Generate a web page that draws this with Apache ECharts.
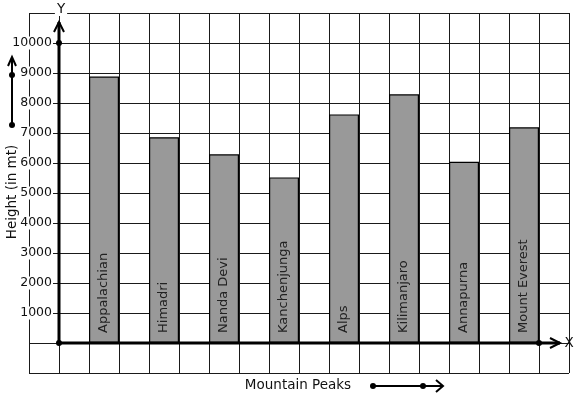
<!DOCTYPE html>
<html>
<head>
<meta charset="utf-8">
<script src="https://cdn.jsdelivr.net/npm/echarts@6/dist/echarts.min.js"></script>
<style>html,body{margin:0;padding:0;background:#fff;}#c{width:577px;height:399px;}</style>
</head>
<body>
<div id="c"></div>
<script>
const categories = ['Appalachian', 'Himadri', 'Nanda Devi', 'Kanchenjunga', 'Alps', 'Kilimanjaro', 'Annapurna', 'Mount Everest'];
const heights = [8880, 6860, 6290, 5520, 7620, 8290, 6040, 7190];
const yTickMin = 0, yTickMax = 10000, yTickStep = 1000;
const xTitle = 'Mountain Peaks';
const yTitle = 'Height (in mt)';

const FONT = 'DejaVu Sans';
const chart = echarts.init(document.getElementById('c'));
const gridLine = {show: true, lineStyle: {color: '#1a1a1a', width: 1}};
chart.setOption({
  animation: false,
  backgroundColor: '#fff',
  grid: [
    {left: 29, right: 8, top: 13, bottom: 26},
    {left: 74, right: 23, top: 13, bottom: 26},
    {left: 59, right: 8, top: 43, bottom: 56}
  ],
  xAxis: [
    {gridIndex: 0, type: 'value', min: -1, max: 17, interval: 1, axisLine: {show: false}, axisTick: {show: false}, axisLabel: {show: false}, splitLine: gridLine},
    {gridIndex: 1, type: 'category', data: categories, show: false},
    {gridIndex: 2, type: 'value', min: 0, max: 1, show: false}
  ],
  yAxis: [
    {gridIndex: 0, type: 'value', min: yTickMin - yTickStep, max: yTickMax + yTickStep, interval: yTickStep, axisLine: {show: false}, axisTick: {show: false}, axisLabel: {show: false}, splitLine: gridLine},
    {gridIndex: 1, type: 'value', min: yTickMin - yTickStep, max: yTickMax + yTickStep, show: false},
    {gridIndex: 2, type: 'value', min: yTickMin, max: yTickMax, interval: yTickStep, z: 10,
      axisLine: {show: false}, axisTick: {show: false}, splitLine: {show: false},
      axisLabel: {margin: 6, showMinLabel: false, formatter: v => String(v), color: '#111', fontSize: 12.5, fontFamily: FONT, backgroundColor: '#fff', padding: [0, 1]}}
  ],
  series: [{
    type: 'bar', xAxisIndex: 1, yAxisIndex: 1, data: heights, barWidth: 30, z: 5,
    itemStyle: {color: '#999999', borderColor: '#000', borderWidth: 1.2},
    label: {show: true, position: 'insideBottom', rotate: 90, align: 'left', verticalAlign: 'middle', distance: 10,
      formatter: p => p.name, color: '#222', fontSize: 13, fontFamily: FONT}
  }]
});

const P = (x, y) => chart.convertToPixel({gridIndex: 0}, [x, y]);
const o = P(0, 0), yTop = P(0, 10700), y10k = P(0, 10000), xEnd = P(16.7, 0), xDot = P(16, 0);
const stroke = (w) => ({stroke: '#000', lineWidth: w, fill: null});
const dot = (x, y) => ({type: 'circle', z: 21, shape: {cx: x, cy: y, r: 3}, style: {fill: '#000'}});
const F = '13.5px "DejaVu Sans"';
chart.setOption({
  graphic: {elements: [
    {type: 'line', z: 20, shape: {x1: o[0], y1: o[1], x2: yTop[0], y2: yTop[1]}, style: stroke(3)},
    {type: 'polyline', z: 20, shape: {points: [[o[0] - 5, yTop[1] + 10], [o[0], yTop[1]], [o[0] + 5, yTop[1] + 10]]}, style: stroke(2)},
    {type: 'line', z: 20, shape: {x1: o[0], y1: o[1], x2: xEnd[0], y2: xEnd[1]}, style: stroke(3)},
    {type: 'polyline', z: 20, shape: {points: [[xEnd[0] - 10, o[1] - 5], [xEnd[0], o[1]], [xEnd[0] - 10, o[1] + 5]]}, style: stroke(2)},
    dot(o[0], o[1]), dot(y10k[0], y10k[1]), dot(xDot[0], xDot[1]),
    {type: 'text', z: 30, x: o[0] + 2, y: 9, style: {text: 'Y', font: F, fill: '#111', align: 'center', verticalAlign: 'middle', backgroundColor: '#fff', padding: [0, 2]}},
    {type: 'text', z: 30, x: xEnd[0] + 9, y: o[1], style: {text: 'X', font: F, fill: '#111', align: 'center', verticalAlign: 'middle'}},
    {type: 'line', z: 20, shape: {x1: 12, y1: 57, x2: 12, y2: 125}, style: stroke(2)},
    {type: 'polyline', z: 20, shape: {points: [[8, 66], [12, 57], [16, 66]]}, style: stroke(2)},
    dot(12, 75), dot(12, 125),
    {type: 'text', z: 30, x: 12, y: 192, rotation: Math.PI / 2, style: {text: yTitle, font: F, fill: '#111', align: 'center', verticalAlign: 'middle'}},
    {type: 'text', z: 30, x: 298, y: 385, style: {text: xTitle, font: F, fill: '#111', align: 'center', verticalAlign: 'middle'}},
    {type: 'line', z: 20, shape: {x1: 373, y1: 386, x2: 443, y2: 386}, style: stroke(2)},
    {type: 'polyline', z: 20, shape: {points: [[436, 380], [443, 386], [436, 392]]}, style: stroke(2)},
    dot(373, 386), dot(423, 386)
  ]}
});
</script>
</body>
</html>
